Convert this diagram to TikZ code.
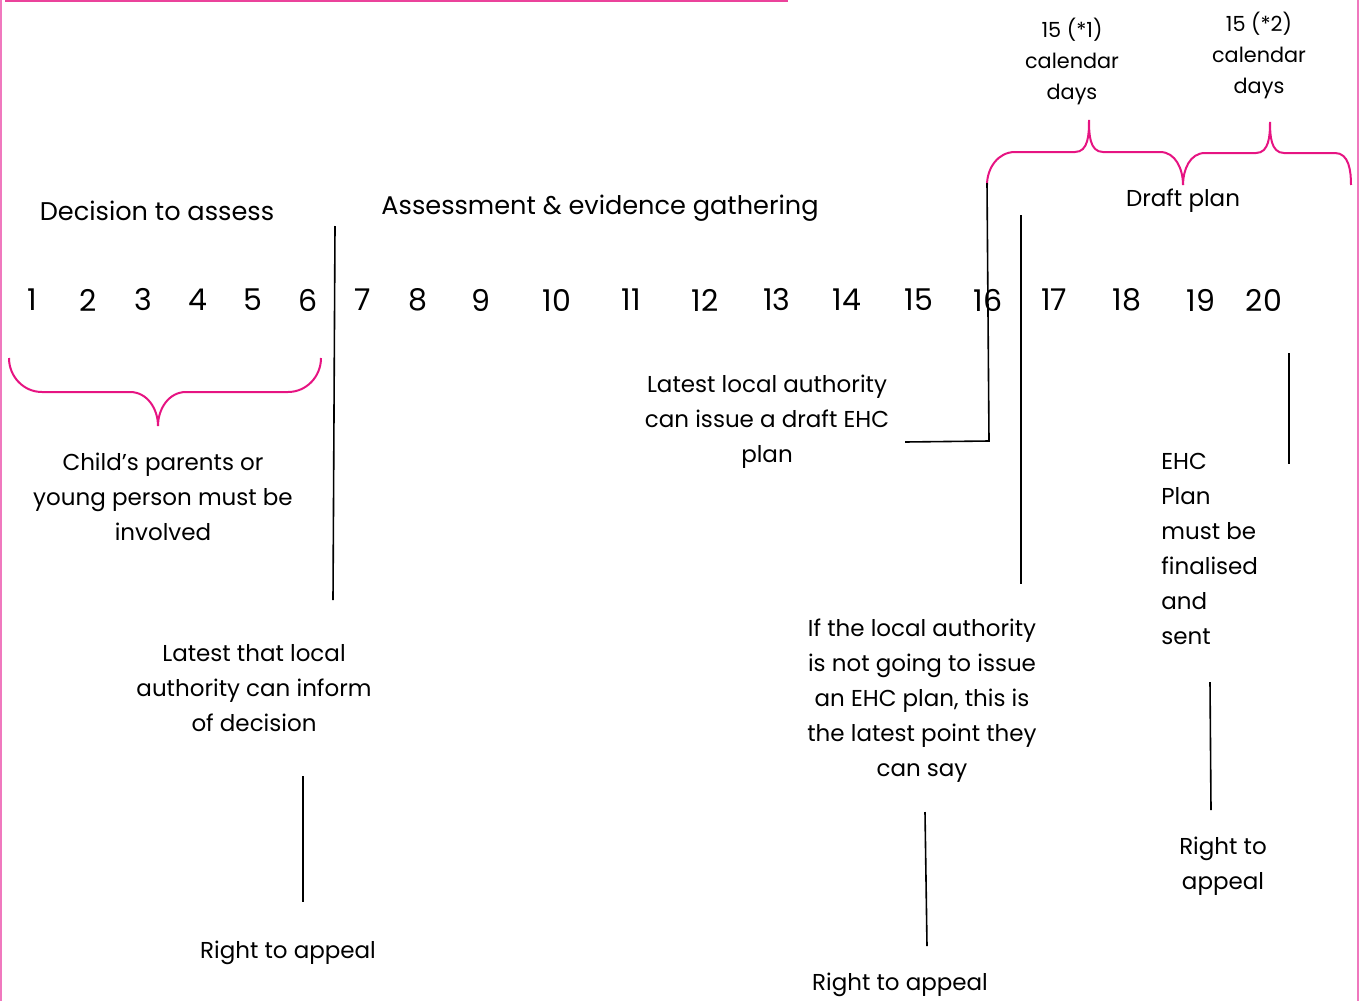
\documentclass[tikz,border=0pt]{standalone}
\usepackage{fontspec}
\setmainfont{Poppins}
\usepackage{tikz}
\usetikzlibrary{positioning}
\definecolor{brightpink}{RGB}{230,20,130}
\definecolor{framepink}{RGB}{240,120,190}

\begin{document}
\begin{tikzpicture}[x=0.5pt, y=-0.5pt,
    label/.style={align=center, font=\fontsize{11.5}{17.5}\selectfont, inner sep=0pt},
    heading/.style={label, font=\fontsize{12.8}{17.5}\selectfont},
    small/.style={align=center, font=\fontsize{10.4}{15.5}\selectfont, inner sep=0pt},
    num/.style={font=\fontsize{15}{18}\selectfont, inner sep=0pt},
    marker/.style={draw=black, line width=0.8pt},
    brace/.style={draw=brightpink, line width=1pt}]

    \useasboundingbox (0,0) rectangle (1360,1001);
    % frame
    \draw[framepink, line width=0.8pt] (1,0) -- (1,1001);
    \draw[framepink, line width=0.8pt] (1358,0) -- (1358,1001);
    \draw[brightpink!80, line width=1pt] (5,1) -- (788,1);

    % day numbers
    \foreach \n/\x in {1/32, 2/88, 3/143, 4/198, 5/253, 6/308, 7/363, 8/418, 9/481, 10/557,
        11/631, 12/705, 13/777, 14/847, 15/919, 16/988, 17/1054, 18/1127, 19/1201, 20/1264}
        \node[num] (d\n) at (\x,300) {\n};

    % stage headings
    \node[heading] (assess) at (157,211) {Decision to assess};
    \node[heading] (gather) at (600,208) {Assessment \& evidence gathering};
    \node[label] (draft) at (1183,201) {Draft plan};
    \node[small] (days1) at (1072,61) {15 (*1)\\calendar\\days};
    \node[small] (days2) at (1259,55) {15 (*2)\\calendar\\days};

    % notes
    \node[label] (parents) at (163,497) {Child’s parents or\\young person must be\\involved};
    \node[label] (inform) at (254,688) {Latest that local\\authority can inform\\of decision};
    \node[label] (appeal1) at (288,953) {Right to appeal};
    \node[label] (issue) at (767,422) {Latest local authority\\can issue a draft EHC\\plan};
    \node[label] (notissue) at (922,701) {If the local authority\\is not going to issue\\an EHC plan, this is\\the latest point they\\can say};
    \node[label] (appeal2) at (900,985) {Right to appeal};
    \node[label, align=left, anchor=north west] (final) at (1161,453) {EHC\\Plan\\must be\\finalised\\and\\sent};
    \node[label] (appeal3) at (1223,866) {Right to\\appeal};

    % braces
    \draw[brace] (9,358) to[out=-90,in=180] (42,392) -- (130,392)
        to[out=0,in=90] (158,426) to[out=90,in=180] (186,392) -- (288,392)
        to[out=0,in=-90] (321,358);
    \draw[brace] (987,185) to[out=90,in=180] (1015,152) -- (1075,152)
        to[out=0,in=-90] (1089,120) to[out=-90,in=180] (1103,152) -- (1160,152)
        to[out=0,in=90] (1183,185);
    \draw[brace] (1183,185) to[out=90,in=180] (1205,153) -- (1256,153)
        to[out=0,in=-90] (1270,122) to[out=-90,in=180] (1284,153) -- (1335,153)
        to[out=0,in=90] (1351,185);

    % markers
    \draw[marker] (335,226) -- (333,600);
    \draw[marker] (303,776) -- (303,902);
    \draw[marker] (987,183) -- (989,441) -- (905,442);
    \draw[marker] (1021,215) -- (1021,584);
    \draw[marker] (925,812) -- (927,946);
    \draw[marker] (1289,353) -- (1289,464);
    \draw[marker] (1210,682) -- (1211,810);
\end{tikzpicture}
\end{document}
